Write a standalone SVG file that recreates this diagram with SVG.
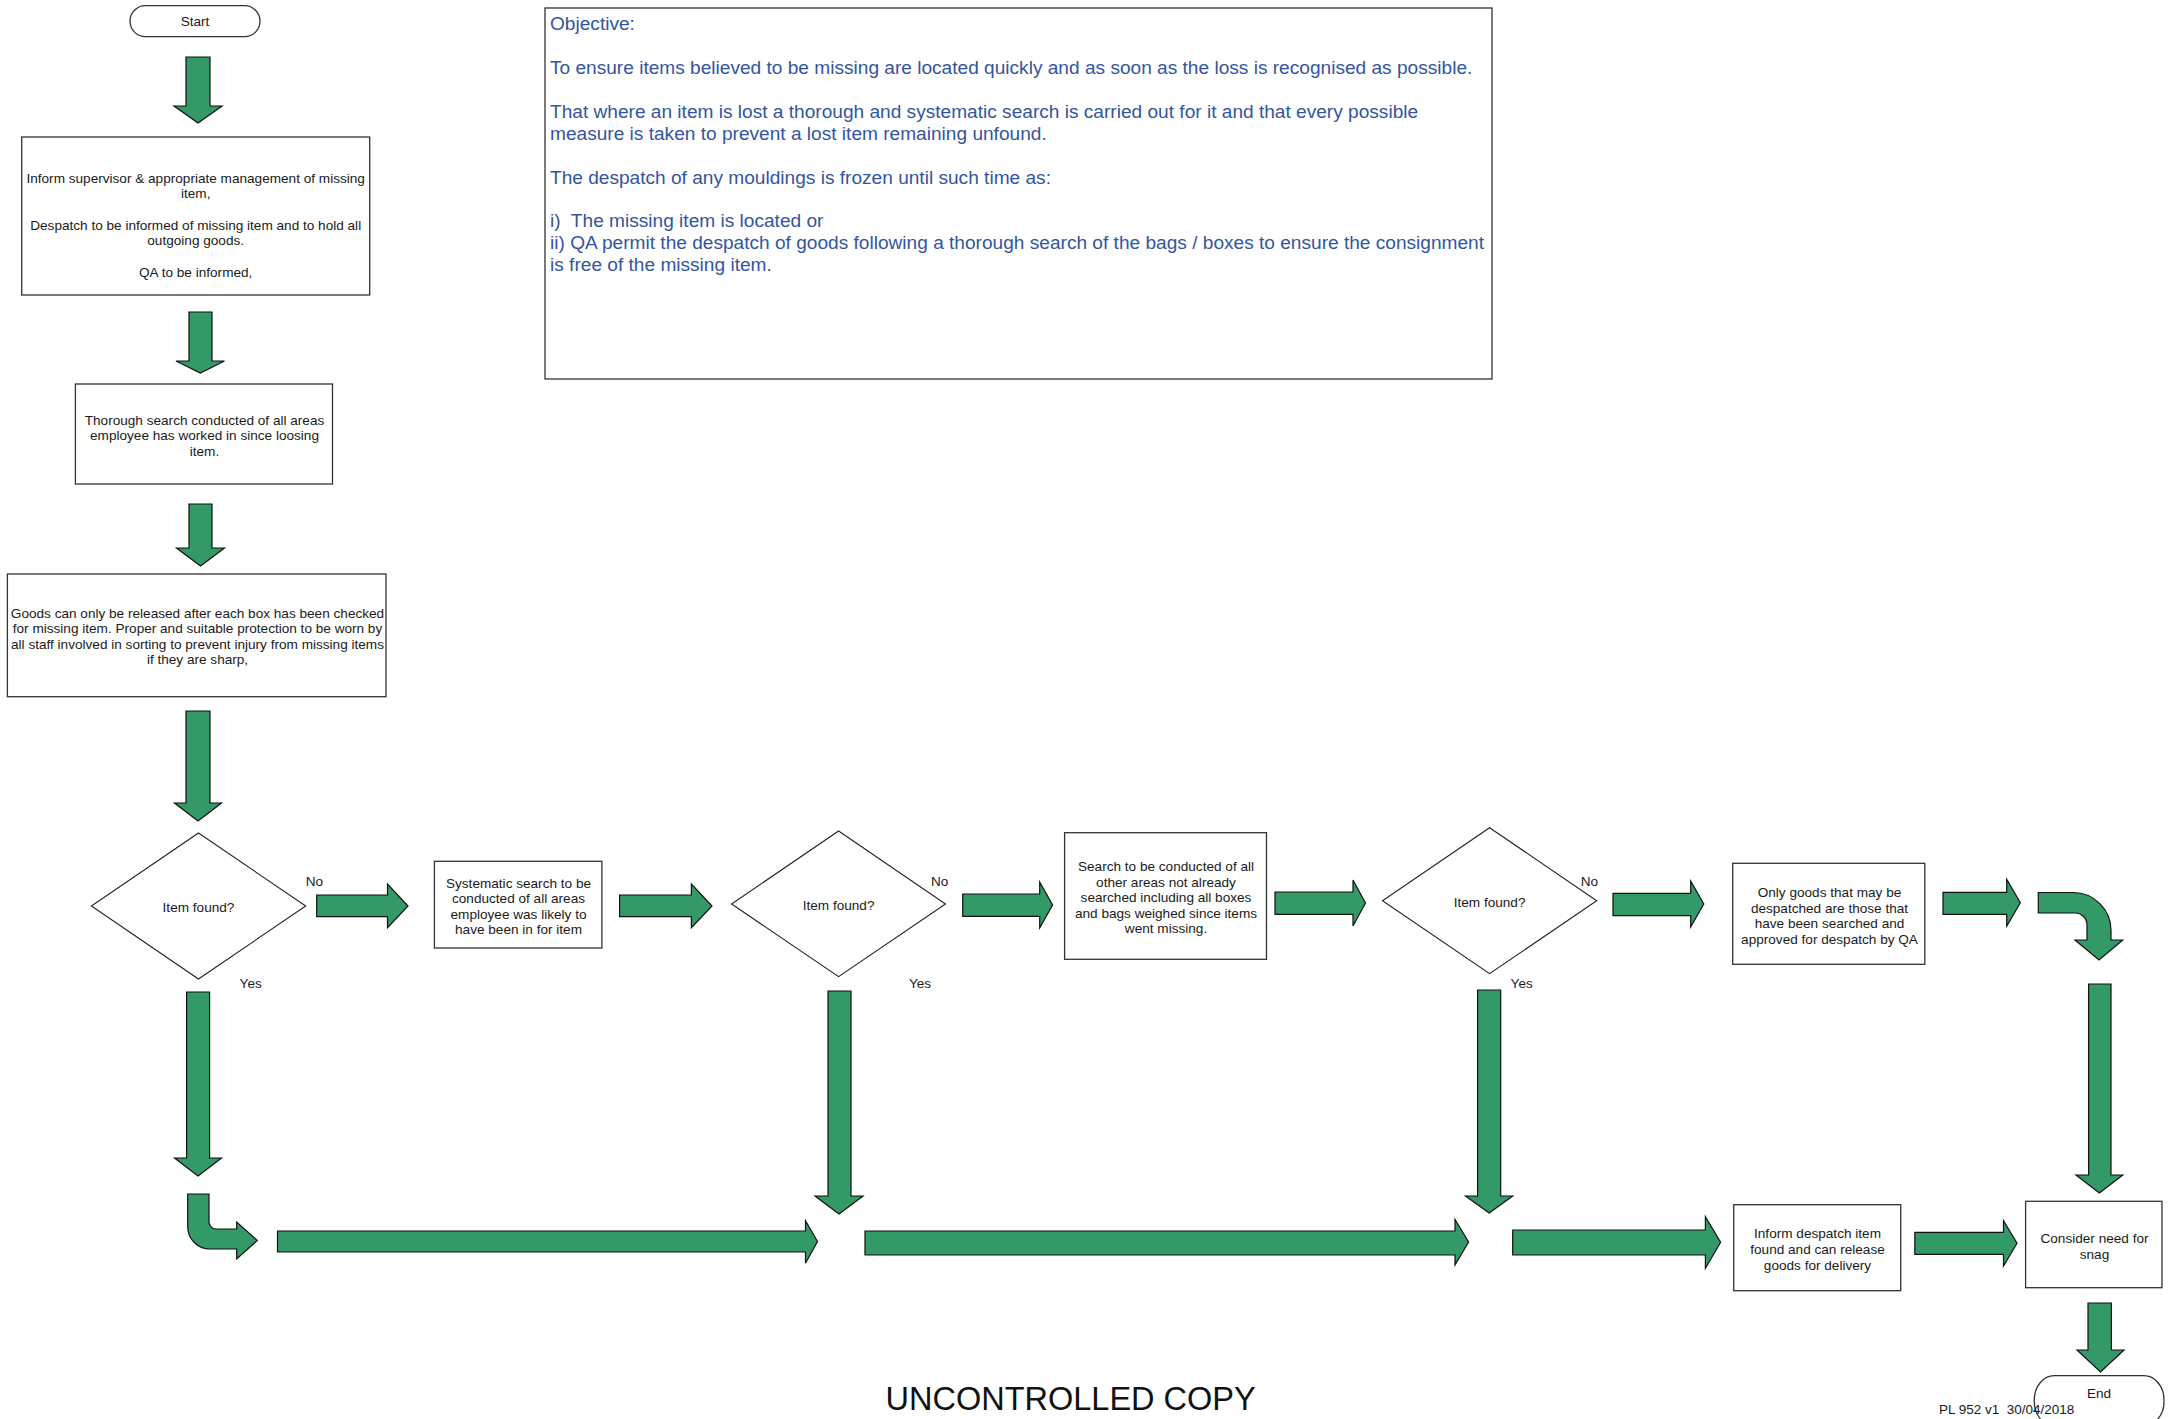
<svg xmlns="http://www.w3.org/2000/svg" width="2173" height="1419" viewBox="0 0 2173 1419">
<style>
.bg{fill:#ffffff}
.box{fill:#ffffff;stroke:#333333;stroke-width:1.3}
.dia{fill:#ffffff;stroke:#222222;stroke-width:1.1}
.arw{fill:#339966;stroke:#111111;stroke-width:1.2;stroke-linejoin:miter}
.t{font-family:"Liberation Sans",Arial,sans-serif;font-size:13.6px;fill:#1a1a1a;text-anchor:middle}
.l{font-family:"Liberation Sans",Arial,sans-serif;font-size:13.5px;fill:#1a1a1a}
.obj{font-family:"Liberation Sans",Arial,sans-serif;font-size:19.1px;fill:#3355a0}
.big{font-family:"Liberation Sans",Arial,sans-serif;font-size:32.5px;fill:#111111;text-anchor:middle}
</style>
<rect class="bg" x="0" y="0" width="2173" height="1419"/>

<g id="start">
<rect class="box" x="130" y="5.7" width="130" height="31" rx="15.5" ry="15.5"/>
<text class="t" x="195" y="25.5">Start</text>
</g>

<g id="objective">
<rect class="box" x="545" y="8" width="947" height="371"/>
<text class="obj" x="550" y="30.3">Objective:</text>
<text class="obj" x="550" y="74">To ensure items believed to be missing are located quickly and as soon as the loss is recognised as possible.</text>
<text class="obj" x="550" y="117.9">That where an item is lost a thorough and systematic search is carried out for it and that every possible</text>
<text class="obj" x="550" y="139.8">measure is taken to prevent a lost item remaining unfound.</text>
<text class="obj" x="550" y="183.6">The despatch of any mouldings is frozen until such time as:</text>
<text class="obj" x="550" y="227.4" xml:space="preserve">i)  The missing item is located or</text>
<text class="obj" x="550" y="249.3">ii) QA permit the despatch of goods following a thorough search of the bags / boxes to ensure the consignment</text>
<text class="obj" x="550" y="271.2">is free of the missing item.</text>
</g>

<g id="inform">
<rect class="box" x="21.7" y="137" width="348" height="158"/>
<text class="t" x="195.7" y="183">Inform supervisor &amp; appropriate management of missing</text>
<text class="t" x="195.7" y="198.3">item,</text>
<text class="t" x="195.7" y="229.5">Despatch to be informed of missing item and to hold all</text>
<text class="t" x="195.7" y="245">outgoing goods.</text>
<text class="t" x="195.7" y="276.5">QA to be informed,</text>
</g>

<g id="thorough">
<rect class="box" x="75.4" y="384" width="257.1" height="100"/>
<text class="t" x="204.5" y="424.5">Thorough search conducted of all areas</text>
<text class="t" x="204.5" y="440">employee has worked in since loosing</text>
<text class="t" x="204.5" y="455.5">item.</text>
</g>

<g id="goods">
<rect class="box" x="7.4" y="574" width="378.6" height="122.7"/>
<text class="t" x="197.5" y="617.5">Goods can only be released after each box has been checked</text>
<text class="t" x="197.5" y="633">for missing item. Proper and suitable protection to be worn by</text>
<text class="t" x="197.5" y="648.5">all staff involved in sorting to prevent injury from missing items</text>
<text class="t" x="197.5" y="664">if they are sharp,</text>
</g>

<g id="decision1">
<polygon class="dia" points="198.5,833 305.7,906 198.5,979 91.4,906"/>
<text class="t" x="198.5" y="911.5">Item found?</text>
<text class="t" x="314.5" y="886">No</text>
<text class="t" x="250.7" y="987.5">Yes</text>
</g>

<g id="systematic">
<rect class="box" x="434.4" y="861.3" width="167.5" height="86.7"/>
<text class="t" x="518.5" y="887.5">Systematic search to be</text>
<text class="t" x="518.5" y="903.1">conducted of all areas</text>
<text class="t" x="518.5" y="918.7">employee was likely to</text>
<text class="t" x="518.5" y="934.3">have been in for item</text>
</g>

<g id="decision2">
<polygon class="dia" points="838.6,831 945.5,904 838.6,976.7 731.6,904"/>
<text class="t" x="838.6" y="910">Item found?</text>
<text class="t" x="939.7" y="886">No</text>
<text class="t" x="920" y="987.5">Yes</text>
</g>

<g id="search">
<rect class="box" x="1064.6" y="832.7" width="201.9" height="126.6"/>
<text class="t" x="1166" y="871">Search to be conducted of all</text>
<text class="t" x="1166" y="886.6">other areas not already</text>
<text class="t" x="1166" y="902.2">searched including all boxes</text>
<text class="t" x="1166" y="917.8">and bags weighed since items</text>
<text class="t" x="1166" y="933.4">went missing.</text>
</g>

<g id="decision3">
<polygon class="dia" points="1489.6,827.7 1596.7,900.7 1489.6,973.7 1382.5,900.7"/>
<text class="t" x="1489.6" y="907">Item found?</text>
<text class="t" x="1589.5" y="886">No</text>
<text class="t" x="1521.7" y="987.5">Yes</text>
</g>

<g id="onlygoods">
<rect class="box" x="1732.7" y="863.3" width="192.1" height="101"/>
<text class="t" x="1829.5" y="897">Only goods that may be</text>
<text class="t" x="1829.5" y="912.5">despatched are those that</text>
<text class="t" x="1829.5" y="928">have been searched and</text>
<text class="t" x="1829.5" y="943.5">approved for despatch by QA</text>
</g>

<g id="informdespatch">
<rect class="box" x="1733.7" y="1204.7" width="167" height="86"/>
<text class="t" x="1817.5" y="1237.5">Inform despatch item</text>
<text class="t" x="1817.5" y="1253.5">found and can release</text>
<text class="t" x="1817.5" y="1269.5">goods for delivery</text>
</g>

<g id="consider">
<rect class="box" x="2025.6" y="1201.3" width="136.4" height="86.4"/>
<text class="t" x="2094.5" y="1242.5">Consider need for</text>
<text class="t" x="2094.5" y="1259">snag</text>
</g>

<g id="end">
<rect class="box" x="2034.3" y="1375.7" width="129.7" height="50" rx="20" ry="24"/>
<text class="t" x="2099" y="1397.5">End</text>
</g>

<g id="connectors">
<polygon class="arw" points="186,57 210,57 210,106 222,106 198,123 174,106 186,106"/>
<polygon class="arw" points="189,312 212,312 212,361 224.5,361 200.3,373 176,361 189,361"/>
<polygon class="arw" points="189,504 212,504 212,548 224.5,548 200.5,566 176.5,548 189,548"/>
<polygon class="arw" points="186,711 210,711 210,803 221.5,803 198,821 174.5,803 186,803"/>
<polygon class="arw" points="186.6,992 209.6,992 209.6,1158 221.5,1158 198,1176 174.6,1158 186.6,1158"/>
<polygon class="arw" points="828,991 851,991 851,1196 863,1196 839,1214 815,1196 828,1196"/>
<polygon class="arw" points="1477.6,990 1500.7,990 1500.7,1196 1512.7,1196 1489.2,1213 1465.5,1196 1477.6,1196"/>
<polygon class="arw" points="2088.6,984 2111,984 2111,1175 2122.7,1175 2099.4,1193 2076,1175 2088.6,1175"/>
<polygon class="arw" points="2088,1303 2111.4,1303 2111.4,1350 2124,1350 2100.5,1372 2077,1350 2088,1350"/>

<polygon class="arw" points="316.7,895 387.5,895 387.5,884 408,906 387.5,927.7 387.5,916.7 316.7,916.7"/>
<polygon class="arw" points="619.6,895 691.4,895 691.4,884 712,906 691.4,927.7 691.4,916.7 619.6,916.7"/>
<polygon class="arw" points="962.7,894 1039.7,894 1039.7,882 1052.6,905 1039.7,928 1039.7,916.3 962.7,916.3"/>
<polygon class="arw" points="1275,892 1353,892 1353,880 1365.5,903 1353,926 1353,914.3 1275,914.3"/>
<polygon class="arw" points="1613,893.3 1690.7,893.3 1690.7,881 1703.8,904 1690.7,927 1690.7,915.7 1613,915.7"/>
<polygon class="arw" points="1943,892.3 2006.7,892.3 2006.7,879.3 2020.3,902.7 2006.7,926.3 2006.7,914.3 1943,914.3"/>
<polygon class="arw" points="277.5,1231 805.5,1231 805.5,1220.7 817.5,1241.5 805.5,1263.3 805.5,1252 277.5,1252"/>
<polygon class="arw" points="865,1231 1455,1231 1455,1219.3 1468.6,1242 1455,1265 1455,1255 865,1255"/>
<polygon class="arw" points="1512.7,1230 1705.4,1230 1705.4,1216.7 1720.6,1242.3 1705.4,1268.3 1705.4,1255 1512.7,1255"/>
<polygon class="arw" points="1914.8,1232.3 2003.5,1232.3 2003.5,1220.7 2017,1243.3 2003.5,1266 2003.5,1254.3 1914.8,1254.3"/>

<path class="arw" d="M187.7,1194 L209,1194 L209,1222 A7,7 0 0 0 216,1229 L236.7,1229 L236.7,1222 L257.3,1240.5 L236.7,1259 L236.7,1249 L210,1249 A22.3,22.3 0 0 1 187.7,1226.7 Z"/>
<path class="arw" d="M2038.3,892.5 L2073,892.5 A38,38 0 0 1 2111,930.5 L2111,940 L2122.7,940 L2099,960 L2075,940 L2087,940 L2087,925 A12,12 0 0 0 2075,913 L2038.3,913 Z"/>
</g>

<text class="big" x="1070.6" y="1410">UNCONTROLLED COPY</text>
<text class="l" x="1939" y="1414" xml:space="preserve">PL 952 v1  30/04/2018</text>
</svg>
